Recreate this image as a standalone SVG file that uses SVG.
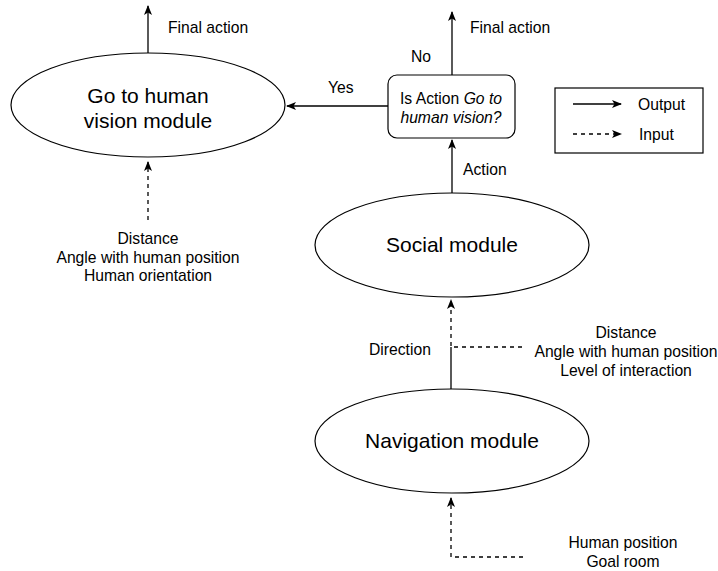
<svg xmlns="http://www.w3.org/2000/svg" width="718" height="571" viewBox="0 0 718 571">
<defs>
<marker id="arr" viewBox="0 0 10 8" refX="9" refY="4" markerWidth="10" markerHeight="8" markerUnits="userSpaceOnUse" orient="auto">
<path d="M0,0 L10,4 L0,8 L2.5,4 z" fill="#000"/>
</marker>
<style>
.shape{fill:#fff;stroke:#000;stroke-width:1.2}
.line{fill:none;stroke:#000;stroke-width:1.3}
.dash{stroke-dasharray:4 4}
text{font-family:"Liberation Sans",Arial,sans-serif;fill:#000}
.big{font-size:21px;text-anchor:middle}
.mid{font-size:15.7px;text-anchor:middle}
.lbl{font-size:15.7px}
</style>
</defs>
<rect width="718" height="571" fill="#fff"/>
<g id="connectors">
<path class="line" d="M148,53 L148,6" marker-end="url(#arr)"/>
<path class="line dash" d="M148,220 L148,162" marker-end="url(#arr)"/>
<path class="line" d="M388,106 L287,106" marker-end="url(#arr)"/>
<path class="line" d="M452,75 L452,12" marker-end="url(#arr)"/>
<path class="line" d="M452,193 L452,140" marker-end="url(#arr)"/>
<path class="line" d="M451,390 L451,347"/>
<path class="line dash" d="M522,347 L451,347 L451,300" marker-end="url(#arr)"/>
<path class="line dash" d="M523,557 L451,557 L451,498" marker-end="url(#arr)"/>
</g>
<g id="go-to-human-vision">
<ellipse class="shape" cx="148" cy="105" rx="137" ry="52"/>
<text class="big" x="148" y="103">Go to human</text>
<text class="big" x="148" y="128">vision module</text>
</g>
<g id="decision">
<rect class="shape" x="388" y="75" width="127" height="63" rx="9"/>
<text class="mid" x="451" y="104">Is Action <tspan font-style="italic">Go to</tspan></text>
<text class="mid" x="451" y="123" font-style="italic">human vision?</text>
</g>
<g id="social-module">
<ellipse class="shape" cx="452" cy="245" rx="137" ry="52"/>
<text class="big" x="452" y="252">Social module</text>
</g>
<g id="navigation-module">
<ellipse class="shape" cx="452" cy="441" rx="137" ry="52"/>
<text class="big" x="452" y="448">Navigation module</text>
</g>
<g id="labels">
<text class="lbl" x="168" y="33">Final action</text>
<text class="lbl" x="470" y="33">Final action</text>
<text class="lbl" x="411" y="62">No</text>
<text class="lbl" x="328" y="93">Yes</text>
<text class="lbl" x="463" y="175">Action</text>
<text class="lbl" x="369" y="355">Direction</text>
<text class="mid" x="148" y="244">Distance</text>
<text class="mid" x="148" y="263">Angle with human position</text>
<text class="mid" x="148" y="281">Human orientation</text>
<text class="mid" x="626" y="338">Distance</text>
<text class="mid" x="626" y="357">Angle with human position</text>
<text class="mid" x="626" y="376">Level of interaction</text>
<text class="mid" x="623" y="548">Human position</text>
<text class="mid" x="623" y="567">Goal room</text>
</g>
<g id="legend">
<rect class="shape" x="555" y="88" width="148" height="65"/>
<path class="line" d="M573,104 L621,104" marker-end="url(#arr)"/>
<path class="line dash" d="M573,134 L621,134" marker-end="url(#arr)"/>
<text class="lbl" x="638" y="110">Output</text>
<text class="lbl" x="639" y="140">Input</text>
</g>
</svg>
